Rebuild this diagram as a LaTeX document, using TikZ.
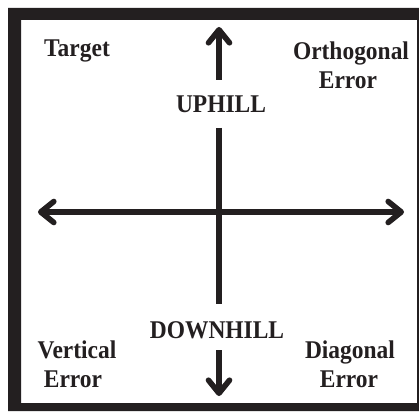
\documentclass[tikz,border=0pt]{standalone}
\usepackage{fontspec}
\setmainfont[FakeStretch=0.92]{Liberation Serif}
\usetikzlibrary{arrows.meta}
\definecolor{ink}{HTML}{231F20}
\begin{document}
\begin{tikzpicture}[x=1pt,y=-1pt,
  lbl/.style={anchor=base,inner sep=0pt,text=ink,font=\fontsize{25.5}{29}\selectfont\bfseries},
  axis/.style={draw=ink,line width=5.6pt},
  tip/.style={-{Straight Barb[length=13pt,width=21pt,line cap=round,line join=round]}}]
\useasboundingbox (0,0) rectangle (419,411);
\fill[white] (0,0) rectangle (419,411);
\fill[ink,even odd rule] (8,8) rectangle (419,411) (21,20) rectangle (417,403);
% labels
\node[lbl] (target) at (77,57) {Target};
\node[lbl] (orth1) at (351,60) {Orthogonal};
\node[lbl] (orth2) at (348,89) {Error};
\node[lbl] (uphill) at (221,113) {UPHILL};
\node[lbl] (downhill) at (217,338) {DOWNHILL};
\node[lbl] (vert1) at (77,358) {Vertical};
\node[lbl] (vert2) at (73,387) {Error};
\node[lbl] (diag1) at (350,358) {Diagonal};
\node[lbl] (diag2) at (349,387) {Error};
% axis coordinates
\coordinate (top) at (219,27);
\coordinate (upA) at (219,80);
\coordinate (upB) at (219,128);
\coordinate (dnA) at (219,304);
\coordinate (dnB) at (219,350);
\coordinate (bot) at (219,396);
\coordinate (left) at (38,212);
\coordinate (right) at (404,212);
\draw[axis,tip] (upA) -- (top);
\draw[axis] (upB) -- (dnA);
\draw[axis,tip] (dnB) -- (bot);
\draw[axis,tip] (210,212) -- (left);
\draw[axis,tip] (210,212) -- (right);
\end{tikzpicture}
\end{document}
